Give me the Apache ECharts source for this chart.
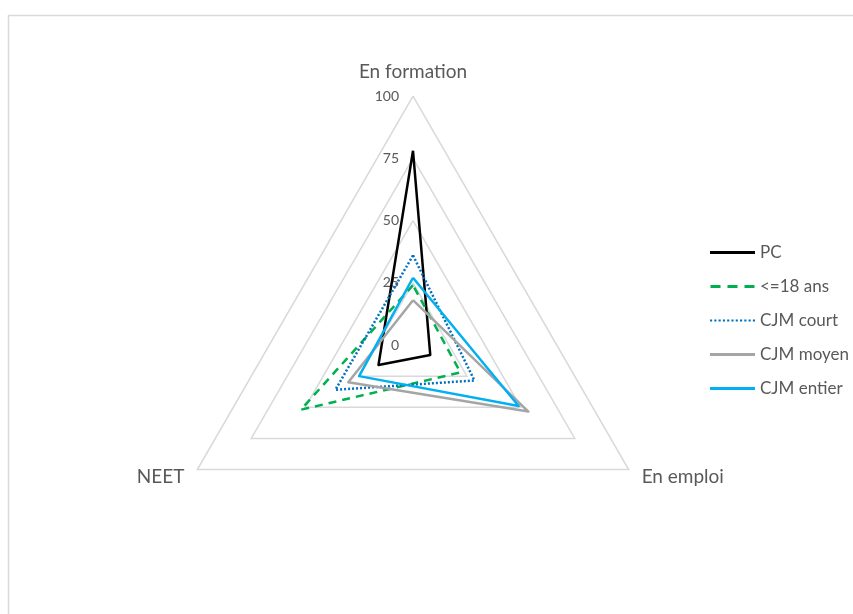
<!DOCTYPE html>
<html>
<head>
<meta charset="utf-8">
<script src="https://cdn.jsdelivr.net/npm/echarts@6/dist/echarts.min.js"></script>
<style>
html,body{margin:0;padding:0;background:#fff;}
#chart{width:853px;height:614px;}
</style>
</head>
<body>
<div id="chart"></div>
<script>
// Indicators (ordered counter-clockwise from the top, as ECharts draws them)
const indicatorNames = ['En formation', 'NEET', 'En emploi'];
const indicatorMax = 100;
const seriesNames = ['PC', '<=18 ans', 'CJM court', 'CJM moyen', 'CJM entier'];
// values in order: En formation, NEET, En emploi
const pcValues = [78, 16, 8];
const under18Values = [24, 52, 22];
const cjmCourtValues = [36, 36, 28.5];
const cjmMoyenValues = [18, 30, 53.5];
const cjmEntierValues = [27, 25, 49];
const tickLabels = ['0', '25', '50', '75', '100'];

const allValues = [pcValues, under18Values, cjmCourtValues, cjmMoyenValues, cjmEntierValues];
const colors = ['#000000', '#00B050', '#0070C0', '#A5A5A5', '#00B0F0'];
const lineTypes = ['solid', [8, 6], [2, 2], 'solid', 'solid'];
const icons = [
  'rect',
  'path://M0,0h10v3h-10z M17,0h10v3h-10z M34,0h10v3h-10z',
  'path://M0,0h2v2h-2z M4,0h2v2h-2z M8,0h2v2h-2z M12,0h2v2h-2z M16,0h2v2h-2z M20,0h2v2h-2z M24,0h2v2h-2z M28,0h2v2h-2z M32,0h2v2h-2z M36,0h2v2h-2z M40,0h2v2h-2z',
  'rect',
  'rect'
];

const chart = echarts.init(document.getElementById('chart'));
const fontFamily = 'Lato, "Liberation Sans", sans-serif';

chart.setOption({
  animation: false,
  backgroundColor: '#ffffff',
  graphic: [{
    type: 'rect',
    shape: { x: 8.5, y: 15.5, width: 900, height: 700 },
    style: { fill: 'none', stroke: '#d9d9d9', lineWidth: 1.5 },
    silent: true
  }],
  legend: {
    orient: 'vertical',
    left: 705,
    top: 239,
    itemWidth: 45,
    itemHeight: 3,
    itemGap: 17,
    textStyle: { color: '#595959', fontSize: 17, fontFamily: fontFamily },
    data: seriesNames.map((n, i) => ({ name: n, icon: icons[i], itemStyle: { color: colors[i] } }))
  },
  radar: {
    center: [413, 345],
    radius: 249,
    shape: 'polygon',
    splitNumber: 4,
    indicator: indicatorNames.map((n, i) => i === 0
      ? { name: n, max: indicatorMax, min: 0 }
      : { name: n, max: indicatorMax, min: 0, axisLabel: { show: false } }),
    axisName: { color: '#595959', fontSize: 19, fontFamily: fontFamily },
    nameGap: 15,
    axisLine: { show: false },
    axisTick: { show: false },
    splitArea: { show: false },
    splitLine: { lineStyle: { color: '#d9d9d9', width: 1.5 } },
    axisLabel: {
      show: true,
      color: '#595959',
      fontSize: 14,
      margin: 14,
      fontFamily: fontFamily,
      formatter: (v) => tickLabels[tickLabels.indexOf(String(v))] || String(v)
    }
  },
  series: seriesNames.map((n, i) => ({
    type: 'radar',
    name: n,
    symbol: 'none',
    z: 2 + i,
    lineStyle: { color: colors[i], width: 2.5, type: lineTypes[i] },
    itemStyle: { color: colors[i] },
    data: [{ name: n, value: allValues[i] }]
  }))
});
</script>
</body>
</html>
